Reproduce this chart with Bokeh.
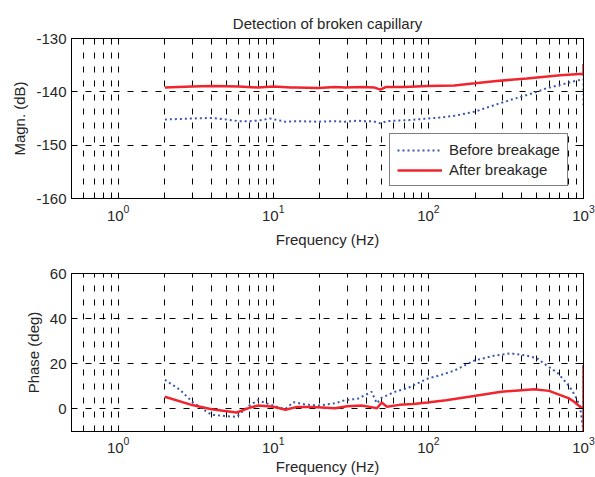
from bokeh.plotting import figure
from bokeh.layouts import column
from bokeh.models import LogAxis, LinearAxis, FixedTicker, Legend, LegendItem
from bokeh.embed import file_html
from bokeh.resources import INLINE

# ---------------- data ----------------
title_text = "Detection of broken capillary"
x_label = "Frequency (Hz)"
mag_label = "Magn. (dB)"
phase_label = "Phase (deg)"
legend_labels = ["Before breakage", "After breakage"]

x_major_ticks = [1, 10, 100, 1000]
x_minor_ticks = [0.5, 0.6, 0.7, 0.8, 0.9,
                 2, 3, 4, 5, 6, 7, 8, 9,
                 20, 30, 40, 50, 60, 70, 80, 90,
                 200, 300, 400, 500, 600, 700, 800, 900]
mag_ticks = [-160, -150, -140, -130]
phase_ticks = [0, 20, 40, 60]

freq_mag_before = [2, 3, 4, 5, 6, 7, 8, 9.5, 12, 14, 19.5, 25, 29, 35, 39, 44, 49, 54, 61, 75,
                   99, 120, 147, 200, 265, 340, 432, 500, 580, 710, 850, 1000, 1000]
mag_before = [-145.2, -145.0, -144.9, -145.2, -145.5, -145.5, -145.4, -145.0, -145.6, -145.5,
              -145.6, -145.5, -145.6, -145.4, -145.5, -145.5, -145.9, -145.5, -145.4, -145.3,
              -145.0, -144.8, -144.5, -143.7, -142.5, -141.5, -140.6, -140.0, -139.3, -138.7,
              -138.1, -137.6, -142.8]

freq_mag_after = [2, 3, 4, 6, 8, 10, 13, 14, 19.5, 25, 29, 37, 45, 49, 53, 70, 99, 147, 200,
                  265, 432, 710, 1000, 1000, 1000]
mag_after = [-139.2, -139.0, -138.9, -139.0, -139.2, -139.0, -139.2, -139.2, -139.3, -139.1,
             -139.2, -139.1, -139.2, -139.6, -139.1, -139.1, -138.9, -138.8, -138.4,
             -138.0, -137.5, -136.9, -136.6, -134.8, -137.0]

freq_phase_before = [2, 2.5, 3, 3.5, 4, 5, 5.8, 7, 8, 9, 10, 11, 12, 13.5, 16, 20, 25, 29, 35,
                     43, 46.5, 50, 61, 75, 98.5, 120, 147, 197, 265, 340, 432, 500, 580, 680,
                     750, 820, 890, 950, 1000, 1000]
phase_before = [12.9, 8.5, 3.2, 0.0, -2.6, -3.2, -3.5, 1.5, 3.9, 2.5, 1.5, 0.5, 0.0, 3.0, 2.0,
                1.5, 2.5, 3.9, 4.5, 7.6, 2.5, 5.0, 7.6, 9.5, 13.4, 15.0, 17.0, 21.4, 23.6, 24.6,
                23.6, 22.5, 19.2, 16.0, 12.7, 9.5, 5.4, 1.0, -10.0, 19.0]

freq_phase_after = [2, 3, 4, 5.8, 7, 8, 10, 12, 14, 18, 25, 30, 37, 43, 46.5, 50, 54, 65, 80,
                    98.5, 130, 197, 295, 400, 480, 600, 710, 800, 870, 950, 1000, 1000, 1000]
phase_after = [5.4, 1.7, -0.1, -1.6, 0.5, 1.5, 1.0, -0.4, 0.8, 0.8, 0.3, 1.2, 1.5, 0.8, 0.3,
               2.8, 1.0, 1.8, 2.2, 2.8, 3.8, 5.7, 7.6, 8.3, 8.7, 8.0, 6.1, 4.8, 3.2, 1.0, 0.0,
               19.5, -10.0]

BLUE = "#3a58ae"
RED = "#f0252d"
TXT = "#262626"
FONT = "Liberation Sans"


def style_axes(p, yticks):
    top_ax = LogAxis()
    right_ax = LinearAxis()
    p.add_layout(top_ax, "above")
    p.add_layout(right_ax, "right")
    for ax in p.xaxis:
        ax.ticker = FixedTicker(ticks=x_major_ticks, minor_ticks=x_minor_ticks)
    for ax in p.yaxis:
        ax.ticker = FixedTicker(ticks=yticks)
        ax.major_label_overrides = {t: str(t) for t in yticks}
    for ax in list(p.xaxis) + list(p.yaxis):
        ax.major_tick_in = 5
        ax.major_tick_out = 0
        ax.minor_tick_in = 3
        ax.minor_tick_out = 0
        ax.axis_line_color = "black"
        ax.major_tick_line_color = "black"
        ax.minor_tick_line_color = "black"
        ax.major_label_text_font = FONT
        ax.major_label_text_font_size = "15px"
        ax.major_label_text_color = TXT
        ax.axis_label_text_font = FONT
        ax.axis_label_text_font_size = "15px"
        ax.axis_label_text_font_style = "normal"
        ax.axis_label_text_color = TXT
    for ax in (top_ax, right_ax):
        ax.major_label_text_font_size = "1px"
        ax.major_label_text_alpha = 0
        ax.major_label_standoff = 0
    p.outline_line_color = "black"
    p.xgrid.grid_line_color = "black"
    p.xgrid.grid_line_dash = "6 8"
    p.xgrid.minor_grid_line_color = "black"
    p.xgrid.minor_grid_line_dash = "6 8"
    p.ygrid.grid_line_color = "black"
    p.ygrid.grid_line_dash = "6 8"
    return top_ax, right_ax


# ---------------- magnitude plot ----------------
p1 = figure(x_axis_type="log", x_range=(0.5, 1000), y_range=(-160, -130),
            width=595, height=250, output_backend="svg", toolbar_location=None,
            min_border_left=71, min_border_right=12, min_border_top=38, min_border_bottom=52)
bottom1 = p1.below[0]
left1 = p1.left[0]
style_axes(p1, mag_ticks)
bottom1.axis_label = x_label
left1.axis_label = mag_label
bottom1.major_label_standoff = 6
bottom1.axis_label_standoff = 7
left1.major_label_standoff = 5
left1.axis_label_standoff = 5
p1.title.text = title_text
p1.title.align = "center"
p1.title.text_font = FONT
p1.title.text_font_size = "15px"
p1.title.text_font_style = "normal"
p1.title.text_color = TXT
p1.title.standoff = 13

r_b = p1.line(freq_mag_before, mag_before, line_color=BLUE, line_width=2, line_dash="2 3")
r_a = p1.line(freq_mag_after, mag_after, line_color=RED, line_width=2.5)

legend = Legend(items=[LegendItem(label=legend_labels[0], renderers=[r_b]),
                       LegendItem(label=legend_labels[1], renderers=[r_a])],
                location=(318, 12), margin=0, padding=7, spacing=3,
                glyph_width=45, glyph_height=16, label_height=16, label_standoff=7,
                label_text_font=FONT, label_text_font_size="15px", label_text_color=TXT,
                border_line_color="black", border_line_width=1,
                background_fill_color="white", background_fill_alpha=1.0)
p1.add_layout(legend)

# ---------------- phase plot ----------------
p2 = figure(x_axis_type="log", x_range=(0.5, 1000), y_range=(-10, 60),
            width=595, height=227, output_backend="svg", toolbar_location=None,
            min_border_left=71, min_border_right=12, min_border_top=23, min_border_bottom=44)
bottom2 = p2.below[0]
left2 = p2.left[0]
style_axes(p2, phase_ticks)
bottom2.axis_label = x_label
left2.axis_label = phase_label
bottom2.major_label_standoff = 5
bottom2.axis_label_standoff = 2
left2.major_label_standoff = 5
left2.axis_label_standoff = 5

p2.line(freq_phase_before, phase_before, line_color=BLUE, line_width=2, line_dash="2 3")
p2.line(freq_phase_after, phase_after, line_color=RED, line_width=2.5)

layout = column(p1, p2, spacing=0)
open("out.html", "w").write(file_html(layout, INLINE))
